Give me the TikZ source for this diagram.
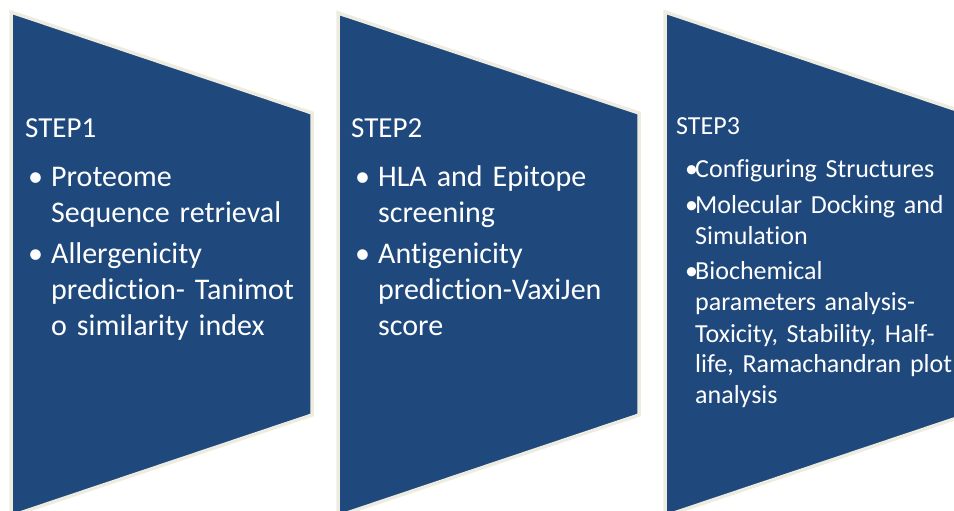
\documentclass[tikz,border=0pt]{standalone}
\usepackage{fontspec}
\setmainfont{Carlito}[Ligatures={NoCommon,NoRequired,NoContextual}]
\usetikzlibrary{positioning}

\definecolor{stepblue}{RGB}{31,73,125}
\definecolor{stepedge}{RGB}{238,236,225}

\newlength{\itemhang}
\newlength{\itemgap}
\newcommand{\stepitem}[1]{\hangindent=\itemhang\hangafter=1\noindent\makebox[\itemhang][l]{\textbullet}#1\par\vspace{\itemgap}}

\begin{document}
\begin{tikzpicture}[
    x=1pt, y=-1pt,
    chevron/.style={fill=stepblue, draw=stepedge, line width=3.5pt, line join=miter},
    steptitle/.style={anchor=base west, inner sep=0pt, text=white, font=\fontsize{29}{34}\selectfont},
    items/.style={anchor=base west, inner sep=0pt, text=white, text width=300pt, align=left,
        font=\fontsize{30}{36}\selectfont\setlength{\itemhang}{23pt}\setlength{\itemgap}{5pt}},
    smallitems/.style={items,
        font=\fontsize{26}{31}\selectfont\setlength{\itemhang}{10pt}\setlength{\itemgap}{5pt}}
]
\useasboundingbox (0,0) rectangle (954,511);
\clip (0,0) rectangle (954,511);

% Chevrons
\draw[chevron] (11,12) -- (312,113) -- (312,415) -- (11,516) -- cycle;
\draw[chevron] (338,13) -- (639,113) -- (639,415) -- (338,516) -- cycle;
\draw[chevron] (665,12) -- (966,113) -- (966,415) -- (665,516) -- cycle;

% Step 1
\node[steptitle] (title1) at (25,137) {STEP1};
\node[items] (list1) at (28,186) {%
    \stepitem{Proteome\newline Sequence retrieval}%
    \stepitem{Allergenicity\newline prediction- Tanimot\newline o similarity index}};

% Step 2
\node[steptitle] (title2) at (351,137) {STEP2};
\node[items] (list2) at (355,186) {%
    \stepitem{HLA and Epitope\newline screening}%
    \stepitem{Antigenicity\newline prediction-VaxiJen\newline score}};

% Step 3
\node[steptitle, font=\fontsize{26}{31}\selectfont] (title3) at (676,135) {STEP3};
\node[smallitems] (list3) at (685,177) {%
    \stepitem{Configuring Structures}%
    \stepitem{Molecular Docking and\newline Simulation}%
    \stepitem{Biochemical\newline parameters analysis-\newline Toxicity, Stability, Half-\newline life, Ramachandran plot\newline analysis}};

\end{tikzpicture}
\end{document}
